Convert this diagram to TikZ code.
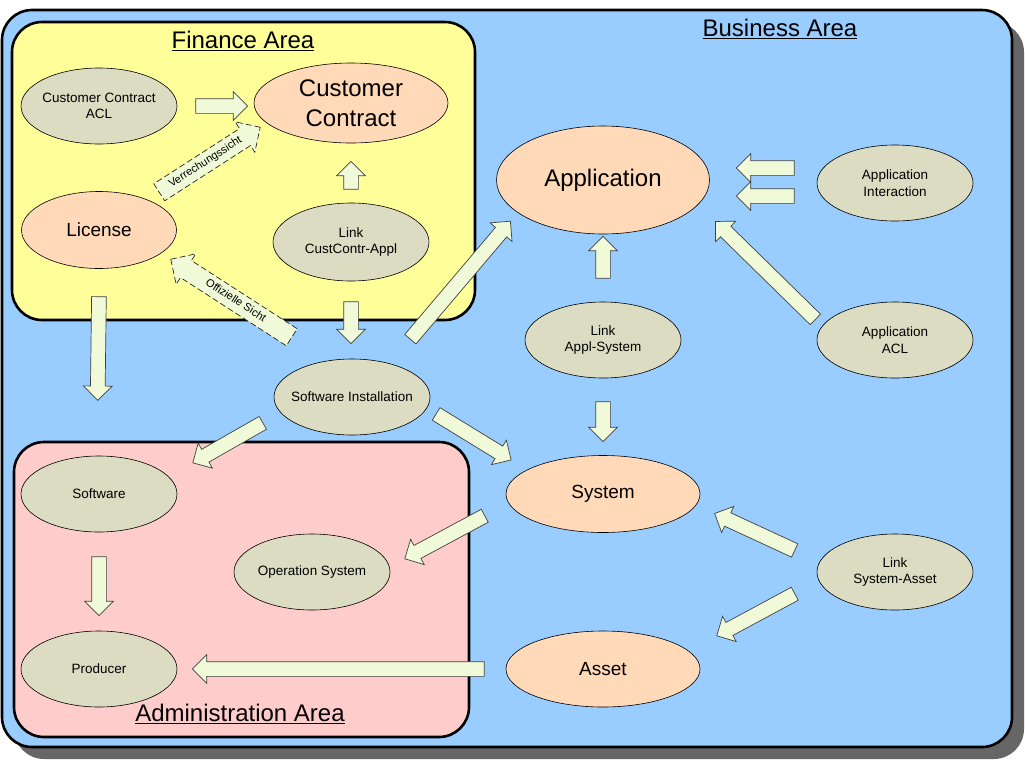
\documentclass[tikz,border=0pt]{standalone}
\usepackage{xcolor}
\usepackage{fontspec}
\setmainfont{Liberation Sans}
\usetikzlibrary{shapes.geometric,shapes.arrows,shadows,calc}

\definecolor{businessblue}{HTML}{99CCFF}
\definecolor{financeyellow}{HTML}{FFFF99}
\definecolor{adminpink}{HTML}{FFCCCC}
\definecolor{entitypeach}{HTML}{FFD9B8}
\definecolor{linkgrey}{HTML}{DCDCC2}
\definecolor{arrowgreen}{HTML}{F0FAD8}

\tikzset{
  areabox/.style={rectangle, draw=black, line width=2.6pt, rounded corners=30pt},
  areatitle/.style={font=\fontsize{24}{29}\selectfont},
  entity/.style={ellipse, draw=black, line width=0.6pt, fill=entitypeach, minimum width=194pt, minimum height=77pt, inner sep=0pt, align=center, font=\fontsize{19}{23}\selectfont},
  bigentity/.style={entity, font=\fontsize{24}{30}\selectfont},
  linkent/.style={ellipse, draw=black, line width=0.6pt, fill=linkgrey, minimum width=156pt, minimum height=76pt, inner sep=0pt, align=center, font=\fontsize{13.5}{16.5}\selectfont},
  fatarr/.style={single arrow, draw=black!75, line width=0.7pt, fill=arrowgreen, inner xsep=0pt, inner ysep=7pt, single arrow head extend=7pt, single arrow tip angle=90},
  viewarr/.style={fatarr, draw=black!85, dash pattern=on 6pt off 3pt, inner ysep=4.5pt, text height=8pt, text depth=2.5pt, single arrow head extend=8pt, font=\fontsize{11}{13}\selectfont}
}

% block arrow between two points: [style]{from}{to}{label}
\newcommand{\fatarrow}[4][fatarr]{%
  \path let \p1=(#2), \p2=(#3), \n1={atan2(\y2-\y1,\x2-\x1)}, \n2={veclen(\x2-\x1,\y2-\y1)} in
    node[#1, rotate=\n1, minimum height=\n2] at ($(#2)!0.5!(#3)$) {#4};}

\begin{document}
\begin{tikzpicture}[x=1pt, y=-1pt]
\useasboundingbox (0,0) rectangle (1025,769);

% areas
\node (businessarea) [areabox, fill=businessblue, minimum width=1010pt, minimum height=737pt, drop shadow={shadow xshift=12pt, shadow yshift=-12pt, fill=black!60, opacity=1}] at (507,378.5) {};
\node (financearea) [areabox, fill=financeyellow, minimum width=463pt, minimum height=298pt] at (243.5,171) {};
\node (adminarea) [areabox, fill=adminpink, minimum width=455pt, minimum height=295pt] at (241.5,589.5) {};

\node (businesstitle) [areatitle] at (780,29) {\underline{Business Area}};
\node (financetitle) [areatitle] at (243,41) {\underline{Finance Area}};
\node (admintitle) [areatitle] at (240,714) {\underline{Administration Area}};

% finance area
\node (ccacl) [linkent] at (99,106) {\makebox[100pt]{Customer Contract}\\ ACL};
\node (custcontract) [bigentity, minimum height=80pt] at (351,103) {Customer\\ Contract};
\node (license) [entity, minimum width=155pt] at (99,230) {License};
\node (linkcca) [linkent, minimum height=78pt] at (351,242) {Link\\ CustContr-Appl};

% business area
\node (application) [bigentity, minimum width=213pt, minimum height=108pt] at (603,180) {Application};
\node (appinteract) [linkent] at (895,183) {Application\\ Interaction};
\node (linkas) [linkent] at (603,340) {Link\\ Appl-System};
\node (appacl) [linkent] at (895,340) {Application\\ ACL};
\node (swinstall) [linkent] at (352,397) {\makebox[100pt]{Software Installation}};
\node (system) [entity] at (603,494) {System};
\node (linksa) [linkent] at (895,572) {Link\\ System-Asset};
\node (asset) [entity, minimum height=76pt] at (603,669) {Asset};

% administration area
\node (software) [linkent] at (99,494) {Software};
\node (opsystem) [linkent] at (312,572) {Operation System};
\node (producer) [linkent] at (99,669) {Producer};

% arrows
\fatarrow{$(ccacl)+(93,0)$}{$(custcontract)+(-107,3)$}{}
\fatarrow{$(linkcca)+(0,-49)$}{$(custcontract)+(0,62)$}{}
\fatarrow{$(linkcca)+(0,56)$}{$(swinstall)+(-1,-57)$}{}
\fatarrow{$(license)+(0,63)$}{$(adminarea.north west)+(85,-44)$}{}
\fatarrow{$(swinstall)+(56,-55)$}{$(application)+(-95,44)$}{}
\fatarrow{$(swinstall)+(-86,24)$}{$(software)+(97,-33)$}{}
\fatarrow{$(swinstall)+(81,15)$}{$(system)+(-95,-36)$}{}
\fatarrow{$(linkas)+(0,-58)$}{$(application)+(0,60)$}{}
\fatarrow{$(linkas)+(0,58)$}{$(system)+(0,-56)$}{}
\fatarrow{$(appinteract)+(-97,-15)$}{$(application)+(137,-12)$}{}
\fatarrow{$(appinteract)+(-97,13)$}{$(application)+(137,16)$}{}
\fatarrow{$(appacl)+(-77,-18)$}{$(application)+(115,44)$}{}
\fatarrow{$(system)+(-115,20)$}{$(opsystem)+(96,-15)$}{}
\fatarrow{$(linksa)+(-97,-20)$}{$(system)+(115,21)$}{}
\fatarrow{$(linksa)+(-97,20)$}{$(asset)+(117,-35)$}{}
\fatarrow{$(software)+(0,59)$}{$(producer)+(0,-57)$}{}
\fatarrow{$(asset)+(-115,0)$}{$(producer)+(97,0)$}{}

% views
\fatarrow[viewarr]{$(license)+(56,-35)$}{$(custcontract)+(-95,27)$}{Verrechungssicht}
\fatarrow[viewarr, shape border rotate=180]{$(license)+(76,32)$}{$(swinstall)+(-56,-57)$}{Offizielle Sicht}

\end{tikzpicture}
\end{document}
